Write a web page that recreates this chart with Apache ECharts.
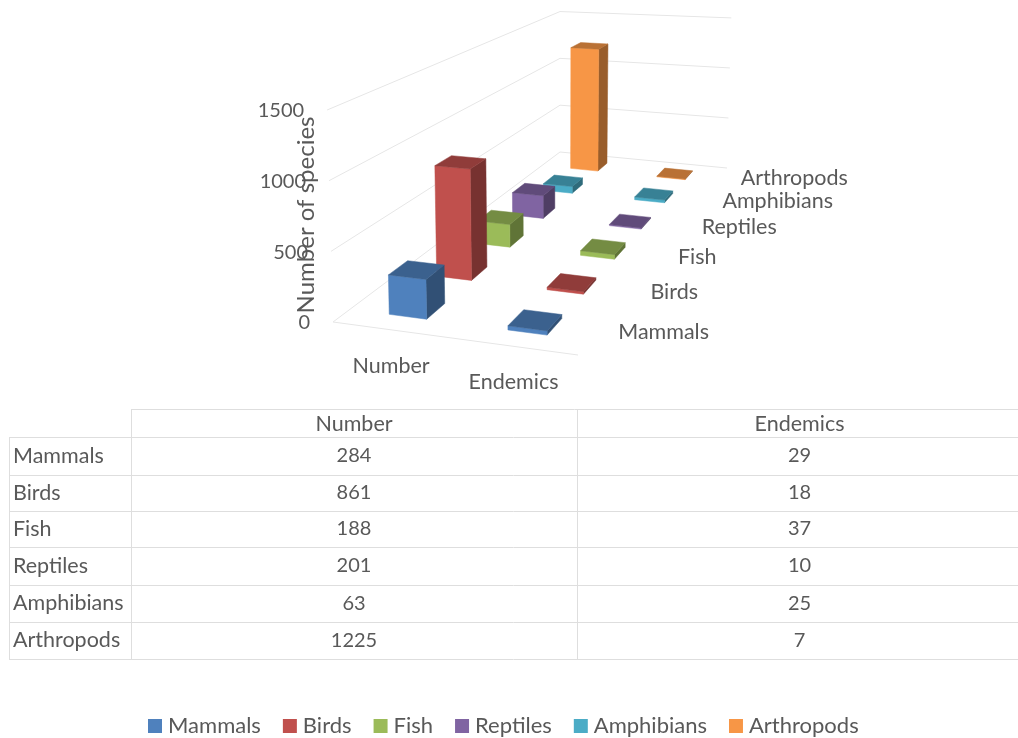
<!DOCTYPE html>
<html>
<head>
<meta charset="utf-8">
<title>Species</title>
<style>
    html, body { margin: 0; padding: 0; background: #fff; }
    #chart { width: 1018px; height: 738px; }
</style>
<script src="https://cdn.jsdelivr.net/npm/echarts@6/dist/echarts.min.js"></script>
</head>
<body>
<div id="chart"></div>
<script>
const categories = ['Mammals', 'Birds', 'Fish', 'Reptiles', 'Amphibians', 'Arthropods']
const columns = ['Number', 'Endemics']
const numberValues = [284, 861, 188, 201, 63, 1225]
const endemicValues = [29, 18, 37, 10, 25, 7]
const valueTicks = [0, 500, 1000, 1500]
const colors = ['#4F81BD', '#C0504D', '#9BBB59', '#8064A2', '#4BACC6', '#F79646']

const FONT = 'Lato, "Open Sans", sans-serif'
const TEXT_FONT = '21.5px ' + FONT
const DIGIT_FONT = '20px ' + FONT  // Lato digits run wider than the rest of its letters
const TEXT_COLOR = '#595959'
const LINE_COLOR = '#DEDEDE'
const WALL_COLOR = '#E6E6E6'

// floor corners of the 3d box, in pixels
const floor = { x0: 333, y0: 322, x1: 578, y1: 355, x2: 727, y2: 168, x3: 560, y3: 152 }
const BAR_U = 0.08   // half bar width, across the columns
const BAR_V = 0.032  // half bar depth, along the categories
const LEAN = 0.026   // verticals lean outward a bit with height
const AXIS_H = 212   // pixel height of 0..1500 at the front left corner

// square -> floor homography
const H = (function () {
    const f = floor
    const dx1 = f.x1 - f.x2, dx2 = f.x3 - f.x2, sx = f.x0 - f.x1 + f.x2 - f.x3
    const dy1 = f.y1 - f.y2, dy2 = f.y3 - f.y2, sy = f.y0 - f.y1 + f.y2 - f.y3
    const den = dx1 * dy2 - dx2 * dy1
    const g = (sx * dy2 - dx2 * sy) / den
    const h = (dx1 * sy - sx * dy1) / den
    return {
        g, h,
        a: f.x1 - f.x0 + g * f.x1, b: f.x3 - f.x0 + h * f.x3, c: f.x0,
        d: f.y1 - f.y0 + g * f.y1, e: f.y3 - f.y0 + h * f.y3, f: f.y0
    }
})()

// u: across columns, v: into the picture, px: height already scaled by the y axis
function project(u, v, px) {
    const w = H.g * u + H.h * v + 1
    const x = (H.a * u + H.b * v + H.c) / w
    const y = (H.d * u + H.e * v + H.f) / w
    const k = px / AXIS_H
    // the far right corner reads a little taller than the pure perspective gives
    return [x + (x - floor.x3) * LEAN * k, y - px / w * (1 + 0.035 * u * v)]
}

function shade(hex, f) {
    const n = parseInt(hex.slice(1), 16)
    const ch = [n >> 16, (n >> 8) & 255, n & 255].map(c => Math.round(c * f))
    return 'rgb(' + ch.join(',') + ')'
}

function quad(points, fill) {
    return { type: 'polygon', shape: { points }, style: { fill, stroke: fill, lineWidth: 0.5 } }
}

function renderBar(params, api) {
    const col = api.value(0)
    const px = api.coord([0, 0])[1] - api.coord([0, api.value(1)])[1]
    const u = (col + 0.5) / columns.length
    const v = (params.seriesIndex + 0.5) / categories.length
    const color = colors[params.seriesIndex]
    const u0 = u - BAR_U, u1 = u + BAR_U, v0 = v - BAR_V, v1 = v + BAR_V
    return {
        type: 'group',
        children: [
            quad([project(u1, v0, 0), project(u1, v1, 0), project(u1, v1, px), project(u1, v0, px)], shade(color, 0.62)),
            quad([project(u0, v0, 0), project(u1, v0, 0), project(u1, v0, px), project(u0, v0, px)], color),
            quad([project(u0, v0, px), project(u1, v0, px), project(u1, v1, px), project(u0, v1, px)], shade(color, 0.75))
        ]
    }
}

function line(points) {
    return { type: 'polyline', shape: { points }, style: { fill: 'none', stroke: WALL_COLOR, lineWidth: 1 } }
}

function renderWall(params, api) {
    const px = api.coord([0, 0])[1] - api.coord([0, api.value(0)])[1]
    const children = [line([project(0, 0, px), project(0, 1, px), project(1, 1, px)])]
    if (api.value(0) === 0) children.push(line([project(0, 0, 0), project(1, 0, 0)]))
    return { type: 'group', children }
}

function label(x, y, text, align, font) {
    return {
        type: 'text',
        style: { x, y, text, align, verticalAlign: 'middle', fill: TEXT_COLOR, font: font || TEXT_FONT }
    }
}

function renderTickLabel(params, api) {
    const px = api.coord([0, 0])[1] - api.coord([0, api.value(0)])[1]
    const p = project(0, 0, px)
    return label(p[0] - 23, p[1] + 1, String(api.value(0)), 'right', DIGIT_FONT)
}

function renderColumnLabel(params, api) {
    const p = project((params.dataIndex + 0.5) / columns.length, 0, 0)
    return label(p[0] - 1, p[1] + 36, columns[params.dataIndex], 'center')
}

function renderCategoryLabel(params, api) {
    const p = project(1, (params.dataIndex + 0.5) / categories.length, 0)
    return label(p[0] + 22, p[1], categories[params.dataIndex], 'left')
}

// data table under the plot
const tableRows = [437, 475, 511, 547, 585, 622, 659]
const tableTop = 409, tableLeft = 9, tableRight = 1018, colA = 131, colB = 577

function tableGraphics() {
    const els = []
    const hline = (x1, x2, y) => els.push({ type: 'line', shape: { x1, y1: y, x2, y2: y }, style: { stroke: LINE_COLOR, lineWidth: 1 } })
    const vline = (x, y1, y2) => els.push({ type: 'line', shape: { x1: x, y1, x2: x, y2 }, style: { stroke: LINE_COLOR, lineWidth: 1 } })
    const text = (x, y, str, align, font) => els.push(label(x, y, str, align, font))
    hline(colA, tableRight, tableTop + 0.5)
    tableRows.forEach(y => hline(tableLeft, tableRight, y + 0.5))
    vline(tableLeft + 0.5, tableRows[0], tableRows[6])
    vline(colA + 0.5, tableTop, tableRows[6])
    vline(colB + 0.5, tableTop, tableRows[6])
    text((colA + colB) / 2, 424, columns[0], 'center')
    text((colB + tableRight) / 2 + 2, 424, columns[1], 'center')
    categories.forEach((name, i) => {
        const y = (tableRows[i] + tableRows[i + 1]) / 2
        text(13, y, name, 'left')
        text((colA + colB) / 2, y, String(numberValues[i]), 'center', DIGIT_FONT)
        text((colB + tableRight) / 2 + 2, y, String(endemicValues[i]), 'center', DIGIT_FONT)
    })
    return els
}

const chart = echarts.init(document.getElementById('chart'), null, { renderer: 'canvas' })

const option = {
    animation: false,
    grid: { left: floor.x0, top: floor.y0 - AXIS_H, width: floor.x1 - floor.x0, height: AXIS_H },
    xAxis: { type: 'category', data: columns, show: false },
    yAxis: { type: 'value', min: 0, max: 1500, interval: 500, show: false },
    legend: {
        data: categories,
        left: 143,
        top: 710,
        itemWidth: 14,
        itemHeight: 14,
        itemGap: 22,
        icon: 'rect',
        textStyle: { fontFamily: FONT, fontSize: 22, color: TEXT_COLOR, padding: [0, 0, 0, 1] }
    },
    graphic: tableGraphics().concat([{
        type: 'text',
        x: 306,
        y: 215,
        rotation: Math.PI / 2,
        style: { x: 0, y: 0, text: 'Number of species', align: 'center', verticalAlign: 'middle', fill: TEXT_COLOR, font: '24px ' + FONT }
    }]),
    series: categories.map((name, i) => ({
        type: 'custom',
        name,
        z: 10 + categories.length - i,
        itemStyle: { color: colors[i] },
        renderItem: renderBar,
        encode: { x: 0, y: 1 },
        data: [[0, numberValues[i]], [1, endemicValues[i]]]
    })).concat([
        { type: 'custom', z: 1, renderItem: renderWall, encode: { y: 0 }, data: valueTicks.map(t => [t]) },
        { type: 'custom', z: 30, renderItem: renderTickLabel, encode: { y: 0 }, data: valueTicks.map(t => [t]) },
        { type: 'custom', z: 30, renderItem: renderColumnLabel, data: columns.map((c, i) => [i]) },
        { type: 'custom', z: 30, renderItem: renderCategoryLabel, data: categories.map((c, i) => [i]) }
    ])
}
chart.setOption(option)
</script>
</body>
</html>
